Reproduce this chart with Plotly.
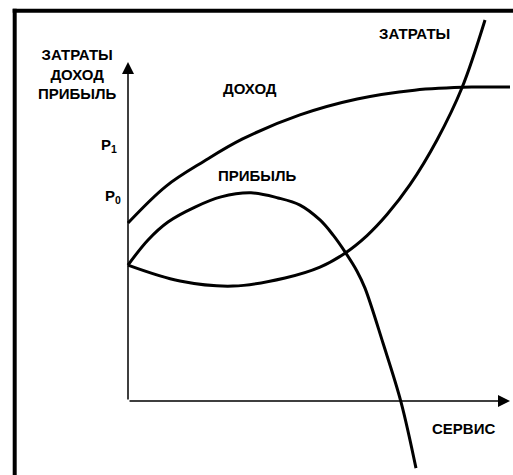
import plotly.graph_objects as go

# ---- data (service level vs. money, arbitrary units) ----
revenue_x = [0, 10, 20, 30, 45, 60, 75, 90, 100]
revenue_y = [52.5, 63.4, 70.8, 77.3, 84.4, 89.1, 91.7, 92.6, 92.6]

cost_x = [0, 13.61, 27.49, 41.10, 50.26, 56.81, 62.57, 67.80, 73.82, 80.89, 87.43, 93.46]
cost_y = [40.1, 35.4, 33.9, 36.3, 39.5, 43.6, 48.8, 55.0, 63.8, 77.0, 92.4, 112.4]

profit_x = [0, 5.24, 10.47, 17.54, 24.35, 32.20, 39.27, 45.03, 50.26, 53.66, 56.81, 59.95, 62.04, 66.75, 71.47, 75.39]
profit_y = [40.1, 47.5, 52.8, 57.2, 60.2, 61.4, 59.9, 57.8, 53.4, 49.0, 44.0, 38.3, 33.3, 17.1, -0.3, -19.8]

axis_x_end = 100
axis_y_end = 100

y_title = "ЗАТРАТЫ<br>ДОХОД<br>ПРИБЫЛЬ"
x_title = "СЕРВИС"
curve_labels = ["ДОХОД", "ЗАТРАТЫ", "ПРИБЫЛЬ"]
level_labels = ["P<sub>1</sub>", "P<sub>0</sub>"]

W, H = 513, 475
FONT = dict(family="Arial, Liberation Sans, sans-serif", size=15, color="black", weight="bold")

fig = go.Figure()
line = dict(color="black", width=3, shape="spline", smoothing=1.0)
fig.add_trace(go.Scatter(x=revenue_x, y=revenue_y, mode="lines", line=line, hoverinfo="skip"))
fig.add_trace(go.Scatter(x=cost_x, y=cost_y, mode="lines", line=line, hoverinfo="skip"))
fig.add_trace(go.Scatter(x=profit_x, y=profit_y, mode="lines", line=line, hoverinfo="skip"))

ann = []
# axes with arrows
ann.append(dict(x=axis_x_end, y=0, ax=0, ay=0, xref="x", yref="y", axref="x", ayref="y",
                text="", showarrow=True, arrowhead=2, arrowsize=1.6, arrowwidth=1.5, arrowcolor="black"))
ann.append(dict(x=0, y=axis_y_end, ax=0, ay=0, xref="x", yref="y", axref="x", ayref="y",
                text="", showarrow=True, arrowhead=2, arrowsize=1.6, arrowwidth=1.5, arrowcolor="black"))

def t(text, x, y, xanchor="center"):
    return dict(text=text, x=x, y=y, xref="x", yref="y", showarrow=False,
                xanchor=xanchor, yanchor="middle", font=FONT, align="center")

ann.append(t(y_title, -13.1, 96.5))
ann.append(t(curve_labels[0], 31.9, 92.3))
ann.append(t(curve_labels[1], 75.1, 108.5))
ann.append(t(curve_labels[2], 34.0, 66.4))
ann.append(t(level_labels[0], -2.4, 75.5, "right"))
ann.append(t(level_labels[1], -1.4, 60.2, "right"))
ann.append(t(x_title, 87.7, -8.0))

shapes = [
    dict(type="line", xref="paper", yref="paper", x0=12.7 / W, x1=1.0,
         y0=1 - 10.8 / H, y1=1 - 10.8 / H, line=dict(color="black", width=4)),
    dict(type="line", xref="paper", yref="paper", x0=14.7 / W, x1=14.7 / W,
         y0=1 - 8.8 / H, y1=0, line=dict(color="black", width=4)),
]

px_x, px_y = 3.82, 3.39
fig.update_layout(
    width=W, height=H, margin=dict(l=0, r=0, t=0, b=0),
    paper_bgcolor="white", plot_bgcolor="white", showlegend=False,
    xaxis=dict(visible=False, range=[-128 / px_x, (W - 128) / px_x]),
    yaxis=dict(visible=False, range=[-(H - 401) / px_y, 401 / px_y]),
    annotations=ann, shapes=shapes,
)
fig.write_html("out.html", config={"displayModeBar": False, "staticPlot": True},
               post_script="document.body.style.margin='0';document.body.style.overflow='hidden';")
